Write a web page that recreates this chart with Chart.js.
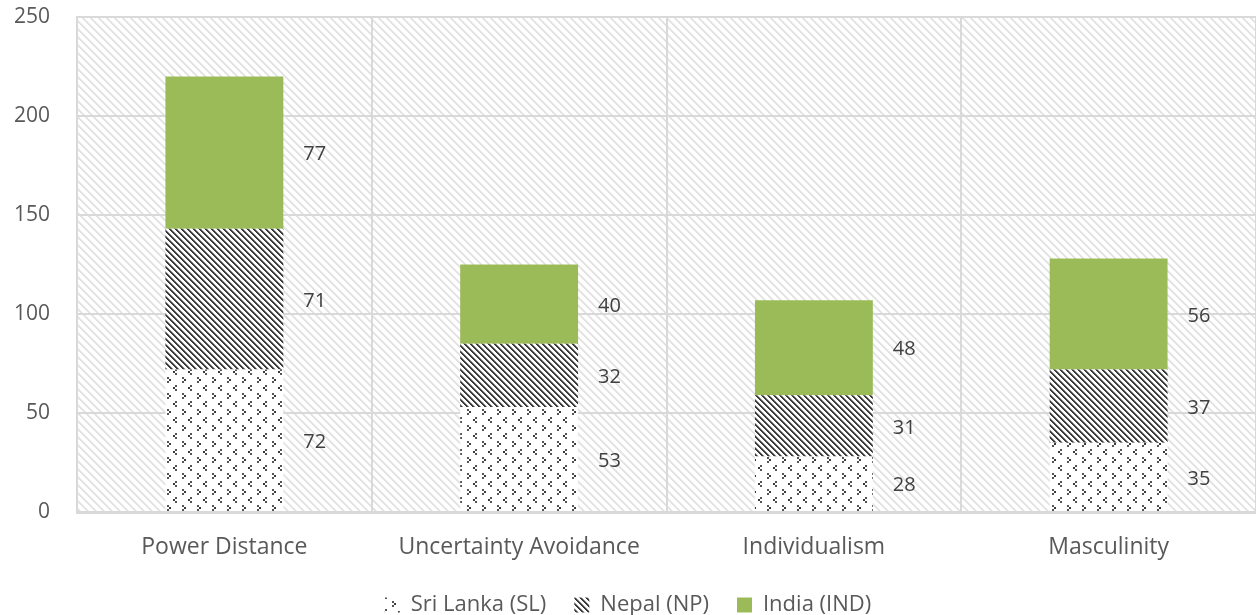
<!DOCTYPE html>
<html>
<head>
<meta charset="utf-8">
<script src="https://cdn.jsdelivr.net/npm/chart.js@4/dist/chart.umd.min.js"></script>
<style>
  html, body { margin: 0; padding: 0; background: #ffffff; }
  #wrap { width: 1256px; height: 615px; }
</style>
</head>
<body>
<div id="wrap"><canvas id="c" width="1256" height="615"></canvas></div>
<script>
// Hofstede dimension scores, stacked by country
const categories = ['Power Distance', 'Uncertainty Avoidance', 'Individualism', 'Masculinity'];
const sriLanka = [72, 53, 28, 35];
const nepal = [71, 32, 31, 37];
const india = [77, 40, 48, 56];
const seriesNames = ['Sri Lanka (SL)', 'Nepal (NP)', 'India (IND)'];
const yTicks = [0, 50, 100, 150, 200, 250];

const TEXT = '#595959';
const GRID = '#d9d9d9';
const GREEN = '#9bbb59';
const CLEAR = 'rgba(0,0,0,0)';

// Diagonal "\" stripes built pixel by pixel so they stay crisp
function stripePattern(period, width, ink, soft, bg) {
  const cv = document.createElement('canvas');
  cv.width = period; cv.height = period;
  const g = cv.getContext('2d');
  g.fillStyle = bg; g.fillRect(0, 0, period, period);
  for (let y = 0; y < period; y++) {
    for (let x = 0; x < period; x++) {
      const d = ((x - y) % period + period) % period;
      if (d < width) { g.fillStyle = ink; g.fillRect(x, y, 1, 1); }
      else if (d === width && soft) { g.fillStyle = soft; g.fillRect(x, y, 1, 1); }
    }
  }
  return g.createPattern(cv, 'repeat');
}

// Small staggered chevrons ("<" and ">") on white
function chevronPattern() {
  const w = 15, h = 16;
  const cv = document.createElement('canvas');
  cv.width = w; cv.height = h;
  const g = cv.getContext('2d');
  g.fillStyle = '#ffffff'; g.fillRect(0, 0, w, h);
  const dot = (x, y, c) => { g.fillStyle = c; g.fillRect(x, y, 2, 2); };
  // "<"
  dot(10, 1, '#555555'); dot(8, 3, '#3a3a3a'); dot(10, 5, '#555555');
  // ">"
  dot(2, 9, '#555555'); dot(4, 11, '#3a3a3a'); dot(2, 13, '#555555');
  return g.createPattern(cv, 'repeat');
}

const ctx = document.getElementById('c').getContext('2d');
const plotHatch = stripePattern(8, 2, '#e2e2e2', '#efefef', '#ffffff');
const nepalHatch = stripePattern(6, 2, '#3a3a3a', '#9a9a9a', '#ffffff');
const sriDots = chevronPattern();

// Light hatch behind the plot area
const plotBackground = {
  id: 'plotBackground',
  beforeDraw(chart) {
    const a = chart.chartArea;
    const c = chart.ctx;
    c.save();
    c.fillStyle = plotHatch;
    c.fillRect(a.left, a.top, a.right - a.left, a.bottom - a.top);
    c.restore();
  }
};

// Value of each segment, written to the right of its bar
const segmentLabels = {
  id: 'segmentLabels',
  afterDatasetsDraw(chart) {
    const c = chart.ctx;
    c.save();
    c.font = '20px "Open Sans"';
    c.fillStyle = '#404040';
    c.textAlign = 'left';
    c.textBaseline = 'middle';
    chart.data.datasets.forEach((ds, i) => {
      const meta = chart.getDatasetMeta(i);
      meta.data.forEach((bar, j) => {
        const x = bar.x + bar.width / 2 + 20;
        const y = (bar.y + bar.base) / 2 + 2;
        c.fillText(String(ds.data[j]), x, y);
      });
    });
    c.restore();
  }
};

Chart.defaults.font.family = '"Open Sans", sans-serif';
Chart.defaults.color = TEXT;

new Chart(ctx, {
  type: 'bar',
  data: {
    labels: categories,
    datasets: [
      { label: seriesNames[0], data: sriLanka, backgroundColor: sriDots, borderWidth: 0 },
      { label: seriesNames[1], data: nepal, backgroundColor: nepalHatch, borderWidth: 0 },
      { label: seriesNames[2], data: india, backgroundColor: GREEN, borderWidth: 0 }
    ]
  },
  options: {
    responsive: false,
    animation: false,
    devicePixelRatio: 1,
    layout: { padding: { top: 17, right: 0, left: 0, bottom: -11 } },
    datasets: { bar: { barPercentage: 0.8, categoryPercentage: 0.5 } },
    scales: {
      x: {
        stacked: true,
        grid: { color: GRID, lineWidth: 2, drawTicks: false, offset: true },
        border: { color: GRID, width: 3 },
        ticks: { font: { size: 23 }, color: TEXT, padding: 22 },
        afterFit(s) { s.height = 54; }
      },
      y: {
        stacked: true,
        min: 0,
        max: 250,
        afterBuildTicks(s) { s.ticks = yTicks.map(v => ({ value: v })); },
        grid: { color: GRID, lineWidth: 2, drawTicks: true, tickLength: 27, tickColor: CLEAR },
        border: { color: GRID, width: 2 },
        ticks: { font: { size: 21 }, color: TEXT, padding: 0 },
        afterFit(s) { s.width = 77; }
      }
    },
    plugins: {
      legend: {
        position: 'bottom',
        labels: { font: { size: 22 }, color: TEXT, boxWidth: 15, boxHeight: 15, padding: 28 }
      },
      tooltip: { enabled: false }
    }
  },
  plugins: [plotBackground, segmentLabels]
});
</script>
</body>
</html>
